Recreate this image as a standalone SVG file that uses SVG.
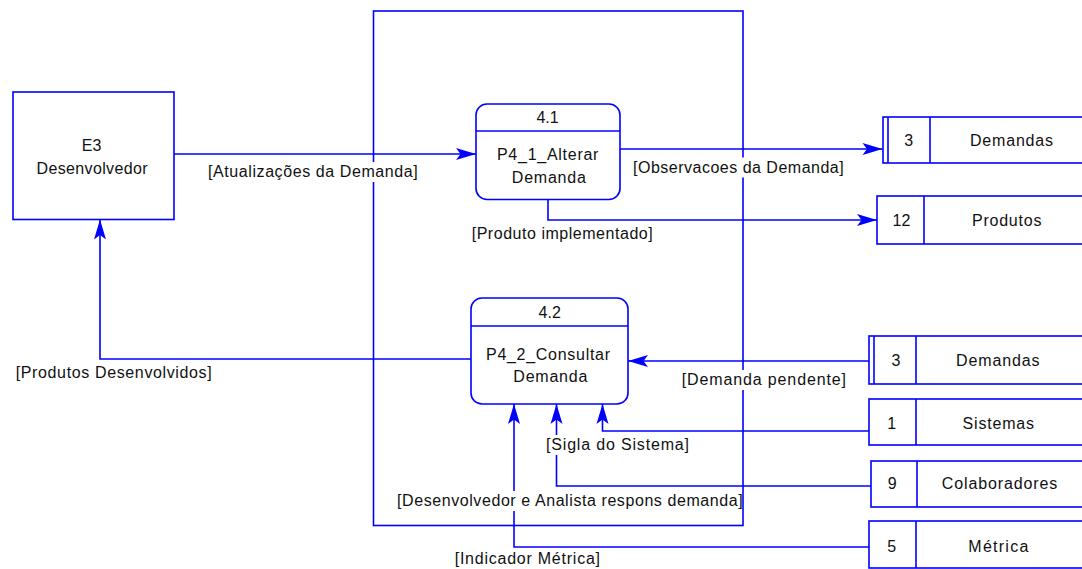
<svg xmlns="http://www.w3.org/2000/svg" width="1082" height="569" viewBox="0 0 1082 569">
<style>
.ln{fill:none;stroke:#0000ff;stroke-width:1.6}
.bx{fill:#ffffff;stroke:#0000ff;stroke-width:1.6}
.t{font-family:"Liberation Sans",Arial,sans-serif;font-size:16px;fill:#111111}
.m{text-anchor:middle}
.bg{fill:#ffffff;stroke:none}
</style>
<defs>
<marker id="ah" markerUnits="userSpaceOnUse" markerWidth="22" markerHeight="16" viewBox="-21 -8 22 16" refX="0" refY="0" orient="auto">
<path d="M0,0 L-20,-6 L-15.5,0 L-20,6 Z" fill="#0000ff"/>
</marker>
</defs>
<rect width="1082" height="569" fill="#ffffff"/>

<g id="boundary">
<rect class="ln" x="373.5" y="11" width="369.5" height="514.5"/>
</g>

<g id="connectors">
<path class="ln" d="M174,154 H476" marker-end="url(#ah)"/>
<path class="ln" d="M620,149 H882.5" marker-end="url(#ah)"/>
<path class="ln" d="M548,199.5 V220 H877" marker-end="url(#ah)"/>
<path class="ln" d="M471,359 H100 V219.5" marker-end="url(#ah)"/>
<path class="ln" d="M869,361 H628" marker-end="url(#ah)"/>
<path class="ln" d="M869,431 H602.5 V404" marker-end="url(#ah)"/>
<path class="ln" d="M871,486 H556.5 V404" marker-end="url(#ah)"/>
<path class="ln" d="M869,547 H514 V404" marker-end="url(#ah)"/>
</g>

<g id="labels">
<rect class="bg" x="208" y="162" width="210" height="20"/>
<text class="t" x="208" y="177" textLength="209.7" lengthAdjust="spacing">[Atualizações da Demanda]</text>
<rect class="bg" x="633" y="157.5" width="211" height="20"/>
<text class="t" x="633" y="172.5" textLength="210.7" lengthAdjust="spacing">[Observacoes da Demanda]</text>
<rect class="bg" x="471.5" y="223.5" width="181.5" height="20"/>
<text class="t" x="471.7" y="238.5" textLength="181" lengthAdjust="spacing">[Produto implementado]</text>
<rect class="bg" x="15.5" y="362.5" width="196.5" height="20"/>
<text class="t" x="15.7" y="377.5" textLength="196" lengthAdjust="spacing">[Produtos Desenvolvidos]</text>
<rect class="bg" x="681.5" y="370" width="165" height="20"/>
<text class="t" x="681.7" y="385" textLength="164.3" lengthAdjust="spacing">[Demanda pendente]</text>
<rect class="bg" x="546" y="435" width="143.5" height="20"/>
<text class="t" x="546" y="450" textLength="143" lengthAdjust="spacing">[Sigla do Sistema]</text>
<rect class="bg" x="397" y="491" width="345" height="20"/>
<text class="t" x="397" y="506" textLength="345.7" lengthAdjust="spacing">[Desenvolvedor e Analista respons demanda]</text>
<rect class="bg" x="454.5" y="549" width="146" height="20"/>
<text class="t" x="454.7" y="564" textLength="145.3" lengthAdjust="spacing">[Indicador Métrica]</text>
</g>

<g id="E3">
<rect class="bx" x="13" y="92" width="161" height="127.5"/>
<text class="t m" x="91.5" y="151">E3</text>
<text class="t m" x="92" y="174" textLength="111" lengthAdjust="spacing">Desenvolvedor</text>
</g>

<g id="P4_1">
<rect class="bx" x="476" y="104" width="144" height="95.5" rx="11" ry="11"/>
<path class="ln" d="M476,131 H620"/>
<text class="t m" x="547.5" y="122.7">4.1</text>
<text class="t m" x="547.7" y="160.3" textLength="101.5" lengthAdjust="spacing">P4_1_Alterar</text>
<text class="t m" x="548.8" y="182.7" textLength="74" lengthAdjust="spacing">Demanda</text>
</g>

<g id="P4_2">
<rect class="bx" x="471" y="298" width="157" height="106" rx="11" ry="11"/>
<path class="ln" d="M471,326 H628"/>
<text class="t m" x="549.7" y="318.3">4.2</text>
<text class="t m" x="548" y="360" textLength="124" lengthAdjust="spacing">P4_2_Consultar</text>
<text class="t m" x="550.3" y="381.7" textLength="74" lengthAdjust="spacing">Demanda</text>
</g>

<g id="DS3_Demandas_a">
<rect class="bx" x="883" y="117" width="210" height="46"/>
<path class="ln" d="M888,117 V163 M930,117 V163"/>
<text class="t m" x="908.7" y="146">3</text>
<text class="t m" x="1011.5" y="146" textLength="83" lengthAdjust="spacing">Demandas</text>
</g>

<g id="DS12_Produtos">
<rect class="bx" x="877" y="196" width="215" height="48"/>
<path class="ln" d="M924,196 V244"/>
<text class="t m" x="901.5" y="226">12</text>
<text class="t m" x="1006.7" y="226" textLength="69.5" lengthAdjust="spacing">Produtos</text>
</g>

<g id="DS3_Demandas_b">
<rect class="bx" x="869" y="336" width="222" height="48"/>
<path class="ln" d="M874,336 V384 M916,336 V384"/>
<text class="t m" x="896" y="366">3</text>
<text class="t m" x="997.8" y="366" textLength="83.5" lengthAdjust="spacing">Demandas</text>
</g>

<g id="DS1_Sistemas">
<rect class="bx" x="869" y="399" width="222" height="46"/>
<path class="ln" d="M916,399 V445"/>
<text class="t m" x="891.7" y="429.3">1</text>
<text class="t m" x="998.3" y="429.3" textLength="71.5" lengthAdjust="spacing">Sistemas</text>
</g>

<g id="DS9_Colaboradores">
<rect class="bx" x="871" y="461" width="220" height="46"/>
<path class="ln" d="M917,461 V507"/>
<text class="t m" x="892.3" y="489.3">9</text>
<text class="t m" x="999.5" y="489.3" textLength="115.5" lengthAdjust="spacing">Colaboradores</text>
</g>

<g id="DS5_Metrica">
<rect class="bx" x="869" y="521" width="222" height="47"/>
<path class="ln" d="M916,521 V568"/>
<text class="t m" x="891.7" y="552.3">5</text>
<text class="t m" x="998.3" y="552.3" textLength="60" lengthAdjust="spacing">Métrica</text>
</g>
</svg>
